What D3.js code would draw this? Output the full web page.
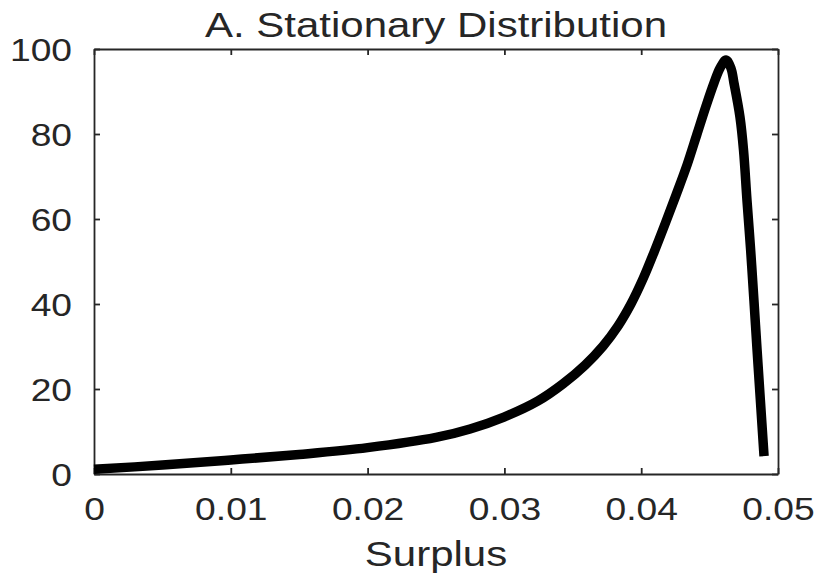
<html>
<head>
  <meta http-equiv="Content-Type" content="text/html;charset=utf-8"/>
  <script src="https://cdn.jsdelivr.net/npm/d3@7"></script>
  <style>
    body { margin: 0; background: #fff; }
    text { font-family: "Liberation Sans", Arial, Helvetica, sans-serif; fill: #262626; }
  </style>
</head>
<body>
<div id="chart"></div>
<script>
  // values
  var surplus = [0, 0.005, 0.01, 0.015, 0.02, 0.025, 0.02749, 0.02997, 0.03246, 0.03428, 0.03589,
    0.03721, 0.0383, 0.03925, 0.04013, 0.04094, 0.04174, 0.04254, 0.04335, 0.04408, 0.04474,
    0.04532, 0.04576, 0.0462, 0.04656, 0.04678, 0.04722, 0.04748, 0.04773, 0.048, 0.04824,
    0.04847, 0.04871, 0.04898];
  var density = [1.1, 2.1, 3.3, 4.6, 6.2, 8.6, 10.6, 13.4, 17.2, 21.2, 25.6,
    30.1, 34.8, 40.0, 45.9, 52.2, 58.8, 65.6, 72.7, 80.0, 86.6,
    92.0, 95.5, 97.4, 95.5, 92.0, 84.0, 76.2, 64.5, 52.7, 40.9,
    29.2, 17.4, 4.2];
  var xTicks = [0, 0.01, 0.02, 0.03, 0.04, 0.05];
  var xTickLabels = ["0", "0.01", "0.02", "0.03", "0.04", "0.05"];
  var yTicks = [0, 20, 40, 60, 80, 100];
  var yTickLabels = ["0", "20", "40", "60", "80", "100"];

  var W = 820, H = 577;
  var mLeft = 94, mRight = 778, mTop = 49, mBottom = 474;
  var sx = 1.2; // the picture is stretched sideways

  var svg = d3.select('#chart').append('svg')
    .attr('width', W).attr('height', H);

  var x = d3.scaleLinear().domain([0, 0.05]).range([mLeft, mRight]);
  var y = d3.scaleLinear().domain([0, 100]).range([mBottom, mTop]);

  function styleAxis(g) {
    g.selectAll('path, line').attr('stroke', '#262626').attr('stroke-width', 1.8);
  }

  var gb = svg.append('g').attr('transform', 'translate(0,' + mBottom + ')')
    .call(d3.axisBottom(x).tickValues(xTicks).tickSize(-6).tickSizeOuter(0)
      .tickFormat(function(d, i) { return xTickLabels[i]; }));
  gb.selectAll('text')
    .attr('y', 46).attr('dy', 0)
    .attr('transform', 'scale(' + sx + ',1)')
    .style('font-size', '31px');

  var gt = svg.append('g').attr('transform', 'translate(0,' + mTop + ')')
    .call(d3.axisTop(x).tickValues(xTicks).tickSize(-6).tickSizeOuter(0).tickFormat(''));

  var gl = svg.append('g').attr('transform', 'translate(' + mLeft + ',0)')
    .call(d3.axisLeft(y).tickValues(yTicks).tickSize(-6).tickSizeOuter(0)
      .tickFormat(function(d, i) { return yTickLabels[i]; }));
  gl.selectAll('text')
    .attr('x', -22 / sx).attr('dy', 0).attr('y', 11)
    .attr('transform', 'scale(' + sx + ',1)')
    .style('font-size', '31px');

  var gr = svg.append('g').attr('transform', 'translate(' + mRight + ',0)')
    .call(d3.axisRight(y).tickValues(yTicks).tickSize(-6).tickSizeOuter(0).tickFormat(''));

  [gb, gt, gl, gr].forEach(styleAxis);

  var pts = surplus.map(function(s, i) { return [s, density[i]]; });
  var line = d3.line()
    .x(function(d) { return x(d[0]); })
    .y(function(d) { return y(d[1]); })
    .curve(d3.curveCatmullRom.alpha(0.5));

  svg.append('path')
    .datum(pts)
    .attr('d', line)
    .attr('fill', 'none')
    .attr('stroke', '#000')
    .attr('stroke-width', 9.5)
    .attr('stroke-linejoin', 'round');

  var cx = (mLeft + mRight) / 2;
  svg.append('text')
    .attr('transform', 'translate(' + cx + ',36.5) scale(' + sx + ',1)')
    .attr('text-anchor', 'middle')
    .style('font-size', '35px')
    .text('A. Stationary Distribution');

  svg.append('text')
    .attr('transform', 'translate(' + cx + ',566) scale(' + sx + ',1)')
    .attr('text-anchor', 'middle')
    .style('font-size', '35px')
    .text('Surplus');
</script>
</body>
</html>
